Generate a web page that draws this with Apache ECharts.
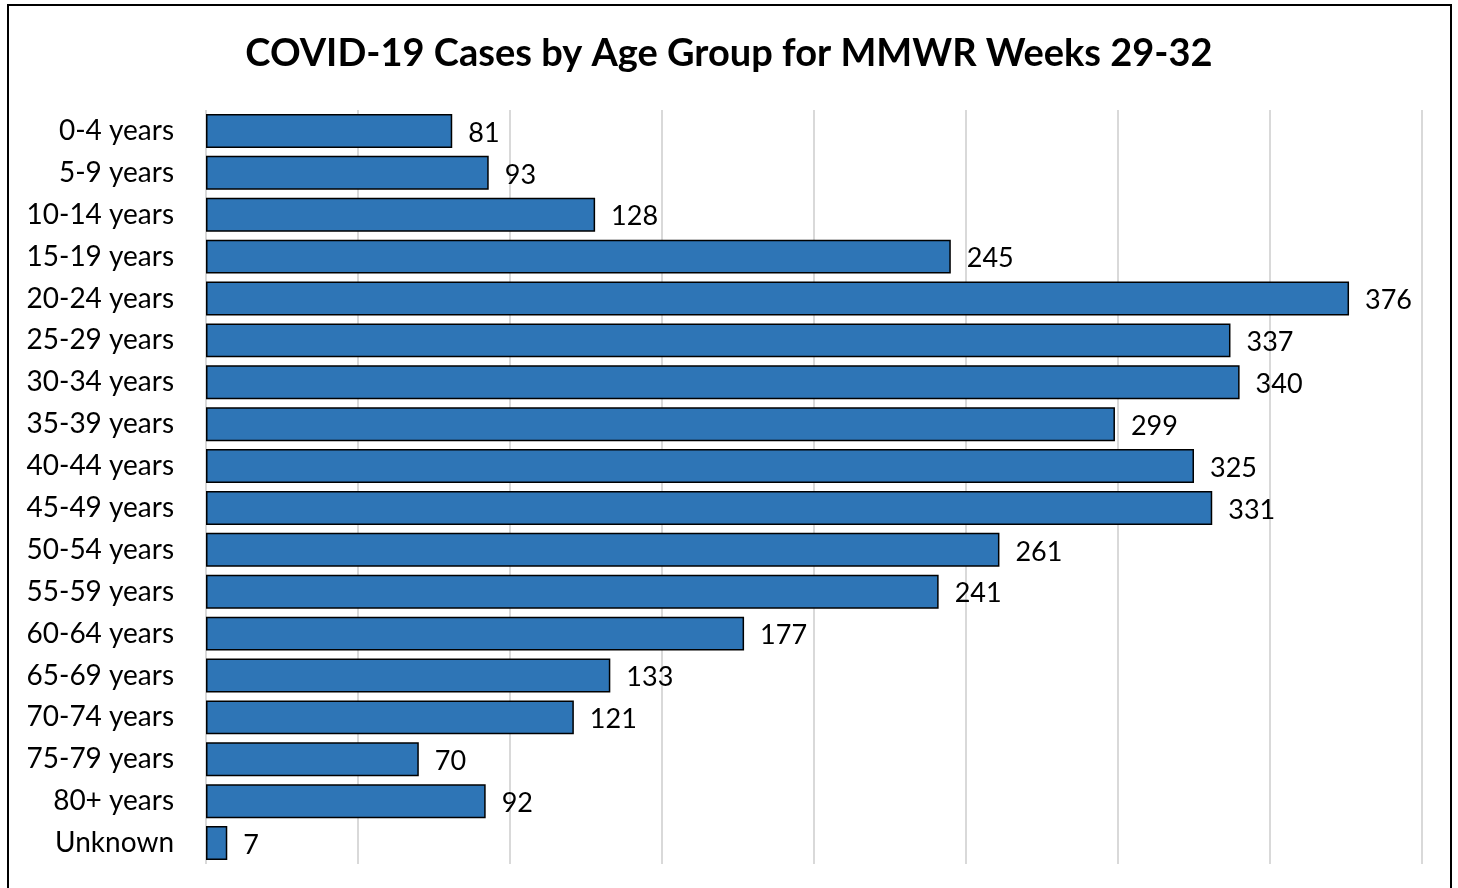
<!DOCTYPE html>
<html style="height: 100%">
<head>
<meta charset="utf-8">
<script src="https://cdn.jsdelivr.net/npm/echarts@6/dist/echarts.min.js"></script>
</head>
<body style="height: 100%; margin: 0; background: #fff">
<div id="container" style="width: 1458px; height: 888px"></div>
<script type="text/javascript">
var ageGroups = ['0-4 years', '5-9 years', '10-14 years', '15-19 years', '20-24 years', '25-29 years',
  '30-34 years', '35-39 years', '40-44 years', '45-49 years', '50-54 years', '55-59 years',
  '60-64 years', '65-69 years', '70-74 years', '75-79 years', '80+ years', 'Unknown'];
var cases = [81, 93, 128, 245, 376, 337, 340, 299, 325, 331, 261, 241, 177, 133, 121, 70, 92, 7];

var fontName = 'Lato, "Open Sans", sans-serif';

var myChart = echarts.init(document.getElementById('container'));

var option = {
  animation: false,
  backgroundColor: '#fff',
  title: {
    text: 'COVID-19 Cases by Age Group for MMWR Weeks 29-32',
    left: 'center',
    top: 30,
    textStyle: { fontFamily: fontName, fontSize: 38, fontWeight: 'bold', color: '#000' }
  },
  grid: { left: 206, right: 36, top: 110, bottom: 24 },
  xAxis: {
    type: 'value',
    min: 0,
    max: 400,
    interval: 50,
    axisLabel: { show: false },
    axisLine: { show: false },
    axisTick: { show: false },
    splitLine: { show: true, lineStyle: { color: '#d9d9d9', width: 2 } }
  },
  yAxis: {
    type: 'category',
    inverse: true,
    data: ageGroups,
    axisLine: { show: false },
    axisTick: { show: false },
    axisLabel: { margin: 32, fontFamily: fontName, fontSize: 28, color: '#000' }
  },
  series: [{
    type: 'bar',
    data: cases,
    barCategoryGap: '19%',
    itemStyle: { color: '#2e75b6', borderColor: '#000', borderWidth: 1.5 },
    label: {
      show: true,
      position: 'right',
      distance: 16,
      offset: [0, 2],
      fontFamily: fontName,
      fontSize: 27,
      color: '#000'
    }
  }],
  graphic: [{
    type: 'rect',
    shape: { x: 8, y: 5, width: 1443, height: 900 },
    style: { fill: 'none', stroke: '#000', lineWidth: 2 },
    silent: true
  }]
};

myChart.setOption(option);
</script>
</body>
</html>
